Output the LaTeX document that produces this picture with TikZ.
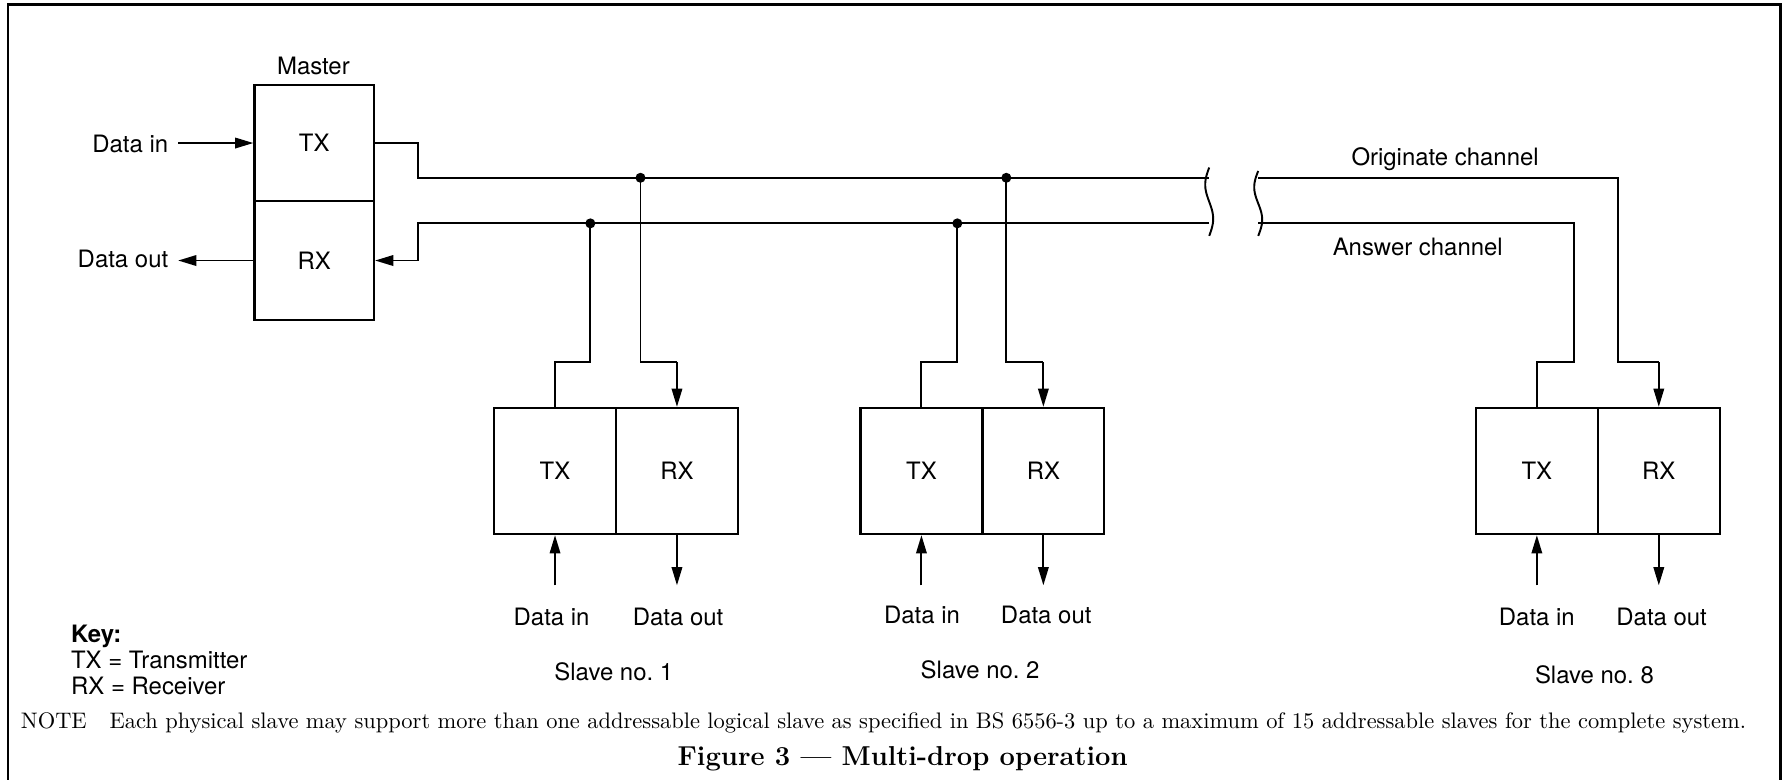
\documentclass[tikz,border=0pt]{standalone}
\usepackage{fontspec}
\setsansfont{TeX Gyre Heros}
\usetikzlibrary{arrows.meta,calc}
\begin{document}
\begin{tikzpicture}[x=0.5pt,y=-0.5pt,
  wire/.style={line width=0.85pt},
  frameline/.style={line width=1.2pt},
  unit/.style={draw,line width=1pt,minimum width=53.5pt,minimum height=55.3pt,inner sep=0pt,
    font=\sffamily\fontsize{10.5}{12}\selectfont},
  arr/.style={wire,-{Triangle[length=8pt,width=4.6pt]}},
  lbl/.style={font=\sffamily\fontsize{10.5}{12}\selectfont,inner sep=0pt,anchor=base},
  junction/.style={fill},
]
\useasboundingbox (0,0) rectangle (1568,684);

% outer frame (open at the bottom)
\draw[frameline] (7,684) -- (7,4) -- (1562,4) -- (1562,684);

% ---------- master station ----------
\node[unit,minimum width=52.4pt,minimum height=50.9pt] (mtx) at (275.7,125.5) {TX};
\node[unit,minimum width=52.4pt,minimum height=52.2pt] (mrx) at (275.7,228.6) {RX};
\node[lbl] (mlab) at (275,65) {Master};
\node[lbl,anchor=base east] (min) at (148,134) {Data in};
\node[lbl,anchor=base east] (mout) at (148,235) {Data out};
\draw[arr] ([xshift=-33pt]mtx.west) -- (mtx.west);
\draw[arr] (mrx.west) -- ([xshift=-33pt]mrx.west);

% ---------- channel junctions and breaks ----------
\coordinate (oL) at (1061,156); \coordinate (aL) at (1061,196);
\coordinate (oR) at (1104,156); \coordinate (aR) at (1104,196);
\coordinate (o1) at (562,156);  \coordinate (a1) at (518,196);
\coordinate (o2) at (883,156);  \coordinate (a2) at (840,196);
\coordinate (o8) at (1420,156); \coordinate (a8) at (1381,196);

% ---------- slaves ----------
\node[unit] (s1tx) at (487,413.3) {TX};
\node[unit] (s1rx) at (594,413.3) {RX};
\node[unit] (s2tx) at (808.5,413.3) {TX};
\node[unit] (s2rx) at (915.5,413.3) {RX};
\node[unit] (s8tx) at (1348.5,413.3) {TX};
\node[unit] (s8rx) at (1455.5,413.3) {RX};

% originate and answer channels from the master
\draw[wire] (mtx.east) -- ++(38,0) |- (oL);
\draw[arr] (aL) -| ([xshift=19pt]mrx.east) -- (mrx.east);

% far side of the channels
\draw[wire] (oR) -- (o8) |- ([yshift=19.5pt]s8rx.north);
\draw[arr] ([yshift=19.5pt]s8rx.north) -- (s8rx.north);
\draw[wire] (aR) -- (a8) |- ([yshift=19.5pt]s8tx.north) -- (s8tx.north);

% break marks
\foreach \bx/\by in {1061/147,1104/150}
  \draw[wire,variable=\t,domain=0:1,samples=40,smooth]
    plot ({\bx-3.5*sin(360*\t)},{\by+(207-\by)*\t});

% drops to slave 1 and slave 2
\draw[wire] (s1tx.north) -- ++(0,-39) -| (a1);
\draw[wire] (o1) |- ([yshift=19.5pt]s1rx.north);
\draw[arr] ([yshift=19.5pt]s1rx.north) -- (s1rx.north);
\draw[wire] (s2tx.north) -- ++(0,-39) -| (a2);
\draw[wire] (o2) |- ([yshift=19.5pt]s2rx.north);
\draw[arr] ([yshift=19.5pt]s2rx.north) -- (s2rx.north);

\foreach \j in {o1,a1,o2,a2}
  \fill[junction] (\j) circle (2.2pt);

% local data in / data out
\foreach \s in {s1,s2,s8}{
  \draw[arr] ([yshift=-22pt]\s tx.south) -- (\s tx.south);
  \draw[arr] (\s rx.south) -- ([yshift=-22pt]\s rx.south);
}

% labels
\node[lbl] (olab) at (1268,145) {Originate channel};
\node[lbl] (alab) at (1244,224) {Answer channel};

\node[lbl] (s1in) at (484,549) {Data in};
\node[lbl] (s1out) at (595,549) {Data out};
\node[lbl] (s1name) at (538.6,597.5) {Slave no.\ 1};
\node[lbl] (s2in) at (809,547) {Data in};
\node[lbl] (s2out) at (918,547) {Data out};
\node[lbl] (s2name) at (860,595.5) {Slave no.\ 2};
\node[lbl] (s8in) at (1348.5,549) {Data in};
\node[lbl] (s8out) at (1458,549) {Data out};
\node[lbl] (s8name) at (1399,599.5) {Slave no.\ 8};

% key
\node[lbl,anchor=base west] (key) at (62,564) {\bfseries Key:};
\node[lbl,anchor=base west] (k1) at (62,587) {TX = Transmitter};
\node[lbl,anchor=base west] (k2) at (62,609) {RX = Receiver};

% note and caption
\node[anchor=base west,inner sep=0pt,font=\rmfamily\fontsize{9.85}{11}\selectfont] (note) at (18,639)
  {NOTE\hspace{10pt}Each physical slave may support more than one addressable logical slave as specified in BS 6556-3 up to a maximum of 15 addressable slaves for the complete system.};
\node[anchor=base,inner sep=0pt,font=\rmfamily\bfseries\fontsize{12}{14}\selectfont] (caption) at (792,672)
  {Figure 3 --- Multi-drop operation};
\end{tikzpicture}
\end{document}
